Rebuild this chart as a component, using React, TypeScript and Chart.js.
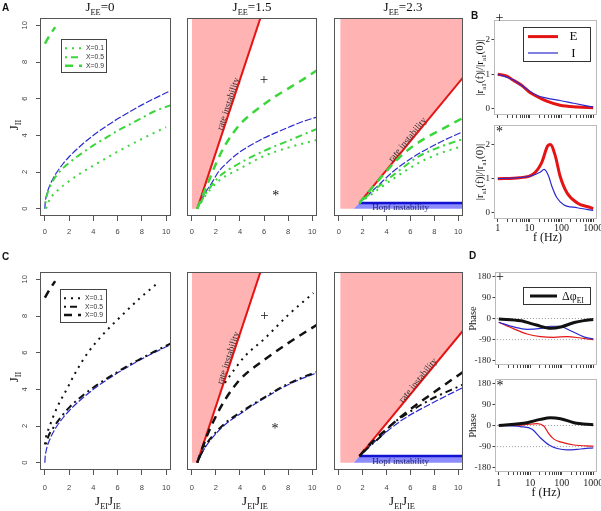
import React, { useEffect, useRef } from "react";
import { Chart, registerables } from "chart.js";

Chart.register(...registerables);

const W = 601;
const H = 511;
const SERIF = '"Liberation Serif", "DejaVu Serif", serif';
const SANS = '"Liberation Sans", "DejaVu Sans", sans-serif';

// ---------------- phase diagrams: J_II versus J_EI*J_IE ----------------
const J_TICKS = [0, 2, 4, 6, 8, 10];
const J_MIN = -0.4;
const J_MAX = 10.4;
const LEGEND_LABELS = ["X=0.1", "X=0.5", "X=0.9"];

// J_EE = 0 (panels A1, C1)
const A1_BLUE_X = [0, 0.03, 0.1, 0.25, 0.5, 0.75, 1, 1.5, 2, 3, 4, 5, 6, 7, 8, 9, 10, 10.4];
const A1_BLUE_Y = [0, 0.35, 0.63, 1.0, 1.41, 1.73, 2.0, 2.45, 2.83, 3.46, 4.0, 4.47, 4.9, 5.29, 5.66, 6.0, 6.32, 6.45];
const A1_X01_X = [0.1, 0.4, 1, 2, 3.1, 4.4, 5.7, 7.1, 8.5, 10];
const A1_X01_Y = [0, 0.5, 0.96, 1.5, 2.0, 2.5, 3.0, 3.5, 3.97, 4.45];
const A1_X05_X = [0.05, 0.2, 0.5, 1, 2, 3, 4, 5, 6, 7, 8, 9, 10.4];
const A1_X05_Y = [0.3, 0.8, 1.3, 1.85, 2.5, 3.0, 3.45, 3.85, 4.25, 4.6, 4.95, 5.3, 5.65];
const A1_X09_X = [0, 0.4, 0.85];
const A1_X09_Y = [9.0, 9.45, 9.9];
const C1_X01_X = [0, 0.1, 0.4, 1, 1.8, 2.6, 3.55, 4.8, 6.3, 7.8, 9.3];
const C1_X01_Y = [1.0, 1.4, 2.0, 3.0, 4.0, 5.0, 6.0, 7.0, 8.0, 8.95, 9.8];
const C1_X05_X = [0.1, 0.3, 0.6, 1, 2, 3, 4, 5, 6, 7, 8, 9, 10.4];
const C1_X05_Y = [1.0, 1.45, 1.8, 2.2, 3.0, 3.6, 4.1, 4.55, 4.95, 5.35, 5.7, 6.05, 6.5];

// J_EE = 1.5 (panels A2, C2)
const A2_RED_X = [0.45, 5.8];
const A2_RED_Y = [0, 10.6];
const A2_PINK_X = [0, 0.45, 5.8];
const A2_PINK_Y = [0, 0, 10.6];
const A2_BLUE_X = [0.45, 0.8, 1.2, 1.7, 2.2, 3, 3.9, 5, 6, 7, 8, 9, 10.4];
const A2_BLUE_Y = [0, 0.5, 0.95, 1.45, 2.0, 2.55, 3.05, 3.5, 3.85, 4.15, 4.43, 4.7, 5.0];
const A2_X01_X = [0.45, 1.1, 2.2, 3.9, 6, 8, 10.4];
const A2_X01_Y = [0, 0.68, 1.5, 2.15, 2.87, 3.33, 3.75];
const A2_X05_X = [0.45, 1.1, 2.2, 3.9, 6, 8, 10.4];
const A2_X05_Y = [0, 0.75, 1.7, 2.45, 3.15, 3.7, 4.35];
const A2_X09_X = [0.45, 0.83, 1.4, 2.1, 2.8, 4, 5, 6, 7, 8, 9, 10.4];
const A2_X09_Y = [0, 0.6, 1.5, 2.6, 3.5, 4.6, 5.2, 5.7, 6.15, 6.55, 6.95, 7.55];
const C2_BLUE_X = [0.45, 1.1, 2.2, 3, 4, 5, 6, 7, 8, 9, 10.4];
const C2_BLUE_Y = [0, 0.82, 1.72, 2.2, 2.65, 3.1, 3.5, 3.9, 4.25, 4.55, 4.9];
const C2_X01_X = [2.75, 3.5, 4.4, 6.1, 8, 10.1];
const C2_X01_Y = [4.35, 5.05, 5.8, 6.8, 8.05, 9.25];
const C2_X05_X = [0.45, 1.1, 2.2, 3, 4, 5, 6, 7, 8, 9, 10.4];
const C2_X05_Y = [0, 0.9, 1.8, 2.28, 2.72, 3.15, 3.55, 3.95, 4.3, 4.6, 4.95];
const C2_X09_X = [0.45, 1.25, 1.94, 2.77, 4, 6, 8, 10.4];
const C2_X09_Y = [0, 1.45, 2.45, 3.44, 4.53, 5.6, 6.52, 7.52];

// J_EE = 2.3 (panels A3, C3)
const A3_RED_X = [1.73, 10.6];
const A3_RED_Y = [0.31, 7.31];
const A3_PINK_X = [0.12, 1.25, 1.73, 10.6];
const A3_PINK_Y = [0, 0, 0.31, 7.31];
const A3_HOPF_X = [1.25, 1.73, 10.6];
const A3_HOPF_Y = [0, 0.31, 0.31];
const A3_BLUE_X = [1.73, 2.3, 3.2, 4.5, 6.2, 8.4, 10.4];
const A3_BLUE_Y = [0.31, 0.65, 1.2, 2.0, 2.8, 3.6, 4.2];
const A3_X01_X = [1.73, 2.4, 3.3, 4.5, 6.7, 8.4, 10.4];
const A3_X01_Y = [0.31, 0.62, 1.05, 1.6, 2.5, 3.0, 3.42];
const A3_X05_X = [1.73, 2.4, 3.3, 4.5, 6.7, 8.4, 10.4];
const A3_X05_Y = [0.31, 0.7, 1.2, 1.8, 2.85, 3.35, 3.8];
const A3_X09_X = [1.73, 2.3, 3.2, 4.2, 5, 5.9, 7, 8.4, 10.4];
const A3_X09_Y = [0.31, 0.76, 1.45, 2.2, 2.75, 3.25, 3.75, 4.25, 4.95];
const C3_RED_X = [1.73, 10.6];
const C3_RED_Y = [0.36, 7.36];
const C3_PINK_X = [0.12, 1.25, 1.73, 10.6];
const C3_PINK_Y = [0, 0, 0.36, 7.36];
const C3_HOPF_X = [1.25, 1.73, 10.6];
const C3_HOPF_Y = [0, 0.36, 0.36];
const C3_BLUE_X = [1.73, 2.34, 3.46, 5.35, 7.82, 10.4];
const C3_BLUE_Y = [0.36, 0.75, 1.4, 2.35, 3.25, 4.1];
const C3_X05_X = [1.73, 2.6, 3.7, 4.3, 5.9, 7.55, 10.4];
const C3_X05_Y = [0.36, 0.9, 1.55, 2.0, 2.75, 3.4, 4.26];
const C3_X09_X = [1.73, 2.6, 3.7, 5.1, 6.7, 8.65, 10.4];
const C3_X09_Y = [0.36, 1.0, 1.65, 2.45, 3.25, 4.15, 4.95];

// ---------------- frequency responses ----------------
const F_TICKS = [1, 2, 3, 4, 5, 6, 7, 8, 9, 10, 20, 30, 40, 50, 60, 70, 80, 90, 100, 200, 300, 400, 500, 600, 700, 800, 900, 1000];
const F_LABELS = [1, 10, 100, 1000];
const AMP_TICKS = [0, 1, 2];
const PHASE_TICKS = [-180, -90, 0, 90, 180];
const PHASE_REF_F = [0.7, 1400];
const PHASE_REF = [0, -90];

// B, point "+"
const F_E_TOP = [1, 2, 3, 5.6, 10, 18.6, 34.7, 91, 316, 1000];
const R_E_TOP = [1.0, 0.94, 0.83, 0.68, 0.48, 0.34, 0.22, 0.1, 0.05, 0.03];
const F_I_TOP = [1, 3, 7.9, 16.6, 34.7, 91, 245, 1000];
const R_I_TOP = [1.0, 0.84, 0.58, 0.39, 0.31, 0.24, 0.16, 0.05];
// B, point "*"
const F_E_BOT = [1, 4.9, 12.9, 24, 37, 44.7, 64.6, 91.2, 151, 316, 832, 1000];
const R_E_BOT = [1.0, 1.03, 1.13, 1.47, 1.96, 2.0, 1.66, 1.07, 0.58, 0.29, 0.15, 0.12];
const F_I_BOT = [1, 10, 21.4, 28.8, 39.8, 50.1, 72.4, 117.5, 316, 1000];
const R_I_BOT = [1.0, 1.07, 1.19, 1.27, 1.07, 0.78, 0.44, 0.24, 0.15, 0.07];
// D, point "+"
const F_DPHI_TOP = [1, 5, 15.8, 44.7, 100, 251, 501, 1000];
const DPHI_TOP = [-2, -10, -28, -42, -35, -17, -9, -4];
const F_PI_TOP = [1, 3, 7.9, 21.4, 44.7, 81, 190, 501, 1000];
const PI_TOP = [-16, -36, -46, -42, -33, -33, -52, -78, -87];
const F_PE_TOP = [1, 3, 7.9, 21.4, 56, 151, 398, 1000];
const PE_TOP = [-16, -44, -66, -77, -80, -77, -83, -90];
// D, point "*"
const F_DPHI_BOT = [1, 7.9, 20.9, 43.7, 91.2, 245, 1000];
const DPHI_BOT = [0, 12, 26, 33, 29, 12, 3];
const F_PE_BOT = [1, 6.3, 16.6, 26.9, 39.8, 56.2, 91.2, 245, 1000];
const PE_BOT = [0, 3, 8, -2, -37, -58, -70, -83, -88];
const F_PI_BOT = [1, 4.9, 11.5, 20.9, 39.8, 72.4, 151, 398, 1000];
const PI_BOT = [0, -5, -16, -52, -83, -98, -104, -100, -95];

// ---------------- styles ----------------
const GREEN = "#3bd63b";
const BLUE = "#2a2ad0";
const RED = "#e41414";
const PINK = "#ffb3b3";
const HOPF_FILL = "#8c8cff";
const HOPF_LINE = "#1212d2";
const DOT = [2, 5];
const DOTDASH = [2, 4, 7, 4];
const LONGDASH = [8, 6];
const BLUEDASH = [7, 2];

type Part = { t: string; sub?: boolean };

const pts = (xs: number[], ys: number[]) => xs.map((x, i) => ({ x, y: ys[i] }));

function curve(xs: number[], ys: number[], color: string, width: number, dash: number[] = [], smooth = true) {
  return {
    data: pts(xs, ys),
    borderColor: color,
    borderWidth: width,
    borderDash: dash,
    borderCapStyle: "butt",
    pointRadius: 0,
    fill: false,
    cubicInterpolationMode: smooth ? "monotone" : "default",
    tension: 0,
  };
}

function area(xs: number[], ys: number[], color: string, fill: string) {
  return {
    data: pts(xs, ys),
    borderColor: "rgba(0,0,0,0)",
    borderWidth: 0,
    backgroundColor: color,
    pointRadius: 0,
    fill,
    tension: 0,
  };
}

function richWidth(ctx: CanvasRenderingContext2D, parts: Part[], size: number, fam: string) {
  let w = 0;
  for (const p of parts) {
    ctx.font = `${p.sub ? size * 0.64 : size}px ${fam}`;
    w += ctx.measureText(p.t).width;
  }
  return w;
}

function rich(ctx: CanvasRenderingContext2D, parts: Part[], x: number, y: number, size: number, fam = SERIF, color = "#111", align = "center") {
  const w = richWidth(ctx, parts, size, fam);
  let cx = align === "center" ? x - w / 2 : x;
  ctx.fillStyle = color;
  ctx.textAlign = "left";
  ctx.textBaseline = "alphabetic";
  for (const p of parts) {
    ctx.font = `${p.sub ? size * 0.64 : size}px ${fam}`;
    ctx.fillText(p.t, cx, p.sub ? y + size * 0.28 : y);
    cx += ctx.measureText(p.t).width;
  }
}

function richV(ctx: CanvasRenderingContext2D, parts: Part[], cx: number, cy: number, size: number, fam = SERIF, color = "#111") {
  ctx.save();
  ctx.translate(cx, cy);
  ctx.rotate(-Math.PI / 2);
  rich(ctx, parts, 0, size * 0.35, size, fam, color, "center");
  ctx.restore();
}

function plain(ctx: CanvasRenderingContext2D, t: string, x: number, y: number, font: string, color = "#111", align: CanvasTextAlign = "center", base: CanvasTextBaseline = "middle") {
  ctx.font = font;
  ctx.fillStyle = color;
  ctx.textAlign = align;
  ctx.textBaseline = base;
  ctx.fillText(t, x, y);
}

function px(chart: any, x: number, y: number) {
  return [chart.scales.x.getPixelForValue(x), chart.scales.y.getPixelForValue(y)];
}

function alongLine(ctx: CanvasRenderingContext2D, chart: any, text: string, cx: number, cy: number, lx: number[], ly: number[]) {
  const [x0, y0] = px(chart, lx[0], ly[0]);
  const [x1, y1] = px(chart, lx[1], ly[1]);
  const ang = Math.atan2(y1 - y0, x1 - x0);
  const [x, y] = px(chart, cx, cy);
  ctx.save();
  ctx.translate(x, y);
  ctx.rotate(ang);
  plain(ctx, text, 0, 0, `9.5px ${SERIF}`, "#333");
  ctx.restore();
}

function marker(ctx: CanvasRenderingContext2D, t: string, x: number, y: number, size = 14) {
  plain(ctx, t, x, t === "*" ? y + size * 0.17 : y, `${size}px ${SERIF}`, "#111");
}

function vText(ctx: CanvasRenderingContext2D, t: string, cx: number, cy: number, font: string) {
  ctx.save();
  ctx.translate(cx, cy);
  ctx.rotate(-Math.PI / 2);
  plain(ctx, t, 0, 0, font, "#111");
  ctx.restore();
}

const JEE = (v: string): Part[] => [{ t: "J" }, { t: "EE", sub: true }, { t: "=" + v }];
const JII: Part[] = [{ t: "J" }, { t: "II", sub: true }];
const JEIJIE: Part[] = [{ t: "J" }, { t: "EI", sub: true }, { t: "J" }, { t: "IE", sub: true }];
const RATIO: Part[] = [{ t: "|r" }, { t: "a1", sub: true }, { t: "(f)|/|r" }, { t: "a1", sub: true }, { t: "(0)|" }];

function xLegend(ctx: CanvasRenderingContext2D, x0: number, y0: number, x1: number, y1: number, rows: number[], color: string) {
  ctx.fillStyle = "#fff";
  ctx.fillRect(x0, y0, x1 - x0, y1 - y0);
  ctx.setLineDash([]);
  ctx.strokeStyle = "#444";
  ctx.lineWidth = 1;
  ctx.strokeRect(x0 + 0.5, y0 + 0.5, x1 - x0 - 1, y1 - y0 - 1);
  const styles: [number[], number][] = [[DOT, 2], [DOTDASH, 2], [LONGDASH, 2.5]];
  LEGEND_LABELS.forEach((lab, i) => {
    ctx.beginPath();
    ctx.setLineDash(styles[i][0]);
    ctx.lineWidth = styles[i][1];
    ctx.strokeStyle = color;
    ctx.moveTo(x0 + 4, rows[i]);
    ctx.lineTo(x0 + 21, rows[i]);
    ctx.stroke();
    ctx.setLineDash([]);
    plain(ctx, lab, x0 + 25, rows[i], `6.8px ${SANS}`, "#333", "left");
  });
}

function decor(boxColor: string, draw: (ctx: CanvasRenderingContext2D, chart: any) => void) {
  return {
    id: "decor",
    afterDraw(chart: any) {
      const ctx = chart.ctx as CanvasRenderingContext2D;
      const a = chart.chartArea;
      ctx.save();
      ctx.setLineDash([]);
      ctx.strokeStyle = boxColor;
      ctx.lineWidth = 1;
      ctx.strokeRect(a.left + 0.5, a.top + 0.5, a.right - a.left - 1, a.bottom - a.top - 1);
      draw(ctx, chart);
      ctx.restore();
    },
  };
}

const BASE_OPTS = {
  responsive: false,
  animation: false,
  devicePixelRatio: 1,
  events: [],
};

function jConfig(o: { box: number[]; showY: boolean; labelPad: number; datasets: () => any[]; draw: (ctx: CanvasRenderingContext2D, chart: any) => void }) {
  const yW = o.showY ? 30 : 0;
  const xH = 30;
  return () => ({
    type: "line",
    data: { datasets: o.datasets() },
    options: {
      ...BASE_OPTS,
      layout: { padding: { left: o.box[0] - yW, top: o.box[1], right: W - o.box[2], bottom: H - o.box[3] - xH } },
      scales: {
        x: {
          type: "linear",
          min: J_MIN,
          max: J_MAX,
          afterBuildTicks: (s: any) => {
            s.ticks = J_TICKS.map((v) => ({ value: v }));
          },
          ticks: { autoSkip: false, maxRotation: 0, padding: o.labelPad, color: "#444", font: { family: SANS, size: 7.5 } },
          grid: { drawOnChartArea: false, drawTicks: true, tickLength: 5, color: "#555", lineWidth: 1 },
          border: { display: false },
          afterFit: (s: any) => {
            s.height = xH;
            s.paddingLeft = 0;
            s.paddingRight = 0;
          },
        },
        y: o.showY
          ? {
              type: "linear",
              min: J_MIN,
              max: J_MAX,
              afterBuildTicks: (s: any) => {
                s.ticks = J_TICKS.map((v) => ({ value: v }));
              },
              ticks: { autoSkip: false, minRotation: 90, maxRotation: 90, crossAlign: "center", padding: 7, color: "#444", font: { family: SANS, size: 7.5 } },
              grid: { drawOnChartArea: false, drawTicks: true, tickLength: 4, color: "#555", lineWidth: 1 },
              border: { display: false },
              afterFit: (s: any) => {
                s.width = yW;
                s.paddingTop = 0;
                s.paddingBottom = 0;
              },
            }
          : { type: "linear", display: false, min: J_MIN, max: J_MAX },
      },
      plugins: { legend: { display: false }, tooltip: { enabled: false } },
    },
    plugins: [decor("#555", o.draw)],
  });
}

function fConfig(o: { box: number[]; phase: boolean; showX: boolean; labelPad: number; datasets: () => any[]; draw: (ctx: CanvasRenderingContext2D, chart: any) => void }) {
  const yW = 24;
  const xH = 20;
  const yTicks = o.phase ? PHASE_TICKS : AMP_TICKS;
  return () => ({
    type: "line",
    data: { datasets: o.datasets() },
    options: {
      ...BASE_OPTS,
      layout: { padding: { left: o.box[0] - yW, top: o.box[1], right: W - o.box[2], bottom: H - o.box[3] - xH } },
      scales: {
        x: {
          type: "logarithmic",
          min: 0.76,
          max: 1318,
          afterBuildTicks: (s: any) => {
            s.ticks = F_TICKS.map((v) => ({ value: v }));
          },
          ticks: {
            autoSkip: false,
            maxRotation: 0,
            padding: o.labelPad,
            color: "#222",
            font: { family: SERIF, size: 10 },
            callback: (v: any) => (o.showX && F_LABELS.includes(Number(v)) ? String(v) : ""),
          },
          grid: { drawOnChartArea: false, drawTicks: true, tickLength: 3, color: "#444", lineWidth: 1 },
          border: { display: false },
          afterFit: (s: any) => {
            s.height = xH;
            s.paddingLeft = 0;
            s.paddingRight = 0;
          },
        },
        y: {
          type: "linear",
          min: o.phase ? -198 : -0.18,
          max: o.phase ? 198 : 2.57,
          afterBuildTicks: (s: any) => {
            s.ticks = yTicks.map((v) => ({ value: v }));
          },
          ticks: { autoSkip: false, padding: 1.5, color: "#222", font: { family: SERIF, size: 9 } },
          grid: { drawOnChartArea: false, drawTicks: true, tickLength: 2.5, color: "#444", lineWidth: 1 },
          border: { display: false },
          afterFit: (s: any) => {
            s.width = yW;
            s.paddingTop = 0;
            s.paddingBottom = 0;
          },
        },
      },
      plugins: { legend: { display: false }, tooltip: { enabled: false } },
    },
    plugins: [decor("#bbbbbb", o.draw)],
  });
}

// ---------------- panels ----------------
const BOX_A1 = [40, 18, 171, 216];
const BOX_A2 = [187, 18, 317, 216];
const BOX_A3 = [334, 18, 463, 216];
const BOX_C1 = [40, 272, 171, 470];
const BOX_C2 = [187, 272, 317, 470];
const BOX_C3 = [334, 272, 463, 470];
const BOX_B1 = [494, 20, 597, 115];
const BOX_B2 = [494, 125, 597, 219];
const BOX_D1 = [495, 272, 597, 365];
const BOX_D2 = [495, 379, 597, 472];

const cfgA1 = jConfig({
  box: BOX_A1,
  showY: true,
  labelPad: 6.5,
  datasets: () => [
    curve(A1_X09_X, A1_X09_Y, GREEN, 2.5, LONGDASH),
    curve(A1_X05_X, A1_X05_Y, GREEN, 2, DOTDASH),
    curve(A1_X01_X, A1_X01_Y, GREEN, 2, DOT),
    curve(A1_BLUE_X, A1_BLUE_Y, BLUE, 1.2, BLUEDASH),
  ],
  draw: (ctx) => {
    plain(ctx, "A", 2, 11, `bold 10px ${SANS}`, "#111", "left", "alphabetic");
    rich(ctx, JEE("0"), 100, 11, 13);
    richV(ctx, JII, 13, 125, 13);
    xLegend(ctx, 61, 39, 107, 73, [48.3, 57.3, 65.7], GREEN);
  },
});

const cfgA2 = jConfig({
  box: BOX_A2,
  showY: false,
  labelPad: 6.5,
  datasets: () => [
    curve(A2_X09_X, A2_X09_Y, GREEN, 2.5, LONGDASH),
    curve(A2_X05_X, A2_X05_Y, GREEN, 2, DOTDASH),
    curve(A2_X01_X, A2_X01_Y, GREEN, 2, DOT),
    curve(A2_BLUE_X, A2_BLUE_Y, BLUE, 1.2, BLUEDASH),
    curve(A2_RED_X, A2_RED_Y, RED, 2, [], false),
    area(A2_PINK_X, A2_PINK_Y, PINK, "end"),
  ],
  draw: (ctx, chart) => {
    rich(ctx, JEE("1.5"), 252, 11, 13);
    alongLine(ctx, chart, "rate instability", 3.04, 5.71, A2_RED_X, A2_RED_Y);
    const [px1, py1] = px(chart, 6.0, 7.0);
    marker(ctx, "+", px1, py1, 15);
    const [px2, py2] = px(chart, 6.98, 0.82);
    marker(ctx, "*", px2, py2, 14);
  },
});

const cfgA3 = jConfig({
  box: BOX_A3,
  showY: false,
  labelPad: 6.5,
  datasets: () => [
    curve(A3_X09_X, A3_X09_Y, GREEN, 2.5, LONGDASH),
    curve(A3_X05_X, A3_X05_Y, GREEN, 2, DOTDASH),
    curve(A3_X01_X, A3_X01_Y, GREEN, 2, DOT),
    curve(A3_BLUE_X, A3_BLUE_Y, BLUE, 1.2, BLUEDASH),
    curve(A3_RED_X, A3_RED_Y, RED, 2, [], false),
    curve(A3_HOPF_X.slice(1), A3_HOPF_Y.slice(1), HOPF_LINE, 2.5, [], false),
    area(A3_HOPF_X, A3_HOPF_Y, HOPF_FILL, "origin"),
    area(A3_PINK_X, A3_PINK_Y, PINK, "end"),
  ],
  draw: (ctx, chart) => {
    rich(ctx, JEE("2.3"), 403, 11, 13);
    alongLine(ctx, chart, "rate instability", 5.77, 3.75, A3_RED_X, A3_RED_Y);
    const [hx, hy] = px(chart, 5.17, 0);
    plain(ctx, "Hopf instability", hx, hy - 1, `9px ${SERIF}`, "#1c1c6b");
  },
});

const cfgC1 = jConfig({
  box: BOX_C1,
  showY: true,
  labelPad: 8.5,
  datasets: () => [
    curve(A1_X09_X, A1_X09_Y, "#111", 2.5, LONGDASH),
    curve(C1_X05_X, C1_X05_Y, "#111", 2, DOTDASH),
    curve(C1_X01_X, C1_X01_Y, "#111", 2, DOT),
    curve(A1_BLUE_X, A1_BLUE_Y, BLUE, 1.2, BLUEDASH),
  ],
  draw: (ctx) => {
    plain(ctx, "C", 2, 259.5, `bold 10px ${SANS}`, "#111", "left", "alphabetic");
    richV(ctx, JII, 13, 377, 13);
    rich(ctx, JEIJIE, 108, 505, 13);
    xLegend(ctx, 60, 289, 107, 323, [298.3, 306.7, 315], "#111");
  },
});

const cfgC2 = jConfig({
  box: BOX_C2,
  showY: false,
  labelPad: 8.5,
  datasets: () => [
    curve(C2_X09_X, C2_X09_Y, "#111", 2.5, LONGDASH),
    curve(C2_X05_X, C2_X05_Y, "#111", 2, DOTDASH),
    curve(C2_X01_X, C2_X01_Y, "#111", 2, DOT),
    curve(C2_BLUE_X, C2_BLUE_Y, BLUE, 1.2, BLUEDASH),
    curve(A2_RED_X, A2_RED_Y, RED, 2, [], false),
    area(A2_PINK_X, A2_PINK_Y, PINK, "end"),
  ],
  draw: (ctx, chart) => {
    rich(ctx, JEIJIE, 255, 505, 13);
    alongLine(ctx, chart, "rate instability", 3.04, 5.71, A2_RED_X, A2_RED_Y);
    const [px1, py1] = px(chart, 6.04, 7.97);
    marker(ctx, "+", px1, py1, 15);
    const [px2, py2] = px(chart, 6.92, 1.94);
    marker(ctx, "*", px2, py2, 14);
  },
});

const cfgC3 = jConfig({
  box: BOX_C3,
  showY: false,
  labelPad: 8.5,
  datasets: () => [
    curve(C3_X09_X, C3_X09_Y, "#111", 2.5, LONGDASH),
    curve(C3_X05_X, C3_X05_Y, "#111", 2, DOTDASH),
    curve(C3_BLUE_X, C3_BLUE_Y, BLUE, 1.2, BLUEDASH),
    curve(C3_RED_X, C3_RED_Y, RED, 2, [], false),
    curve(C3_HOPF_X.slice(1), C3_HOPF_Y.slice(1), HOPF_LINE, 2.5, [], false),
    area(C3_HOPF_X, C3_HOPF_Y, HOPF_FILL, "origin"),
    area(C3_PINK_X, C3_PINK_Y, PINK, "end"),
  ],
  draw: (ctx, chart) => {
    rich(ctx, JEIJIE, 402, 505, 13);
    alongLine(ctx, chart, "rate instability", 6.66, 4.48, C3_RED_X, C3_RED_Y);
    const [hx, hy] = px(chart, 5.17, 0);
    plain(ctx, "Hopf instability", hx, hy - 1, `9px ${SERIF}`, "#1c1c6b");
  },
});

const cfgB1 = fConfig({
  box: BOX_B1,
  phase: false,
  showX: false,
  labelPad: 0,
  datasets: () => [curve(F_I_TOP, R_I_TOP, BLUE, 1.2), curve(F_E_TOP, R_E_TOP, RED, 3)],
  draw: (ctx) => {
    plain(ctx, "B", 471, 18.5, `bold 10px ${SANS}`, "#111", "left", "alphabetic");
    marker(ctx, "+", 499.5, 18, 14);
    richV(ctx, RATIO, 479, 67.5, 11);
    ctx.fillStyle = "#fff";
    ctx.fillRect(523, 27, 68, 35);
    ctx.strokeStyle = "#333";
    ctx.lineWidth = 1;
    ctx.strokeRect(523.5, 27.5, 67, 34);
    ctx.beginPath();
    ctx.strokeStyle = RED;
    ctx.lineWidth = 3;
    ctx.moveTo(528, 36.6);
    ctx.lineTo(558, 36.6);
    ctx.stroke();
    ctx.beginPath();
    ctx.strokeStyle = BLUE;
    ctx.lineWidth = 1.2;
    ctx.moveTo(528, 53);
    ctx.lineTo(558, 53);
    ctx.stroke();
    plain(ctx, "E", 573.5, 37, `13px ${SERIF}`, "#111");
    plain(ctx, "I", 573.5, 53.5, `13px ${SERIF}`, "#111");
  },
});

const cfgB2 = fConfig({
  box: BOX_B2,
  phase: false,
  showX: true,
  labelPad: 0,
  datasets: () => [curve(F_I_BOT, R_I_BOT, BLUE, 1.2), curve(F_E_BOT, R_E_BOT, RED, 3)],
  draw: (ctx) => {
    marker(ctx, "*", 499.5, 130, 14);
    richV(ctx, RATIO, 479, 172, 11);
    plain(ctx, "f (Hz)", 547.5, 241, `12px ${SERIF}`, "#111", "center", "alphabetic");
  },
});

const cfgD1 = fConfig({
  box: BOX_D1,
  phase: true,
  showX: false,
  labelPad: 0,
  datasets: () => [
    curve(F_DPHI_TOP, DPHI_TOP, "#111", 3),
    curve(F_PI_TOP, PI_TOP, BLUE, 1.2),
    curve(F_PE_TOP, PE_TOP, RED, 1.2),
    curve(PHASE_REF_F, [PHASE_REF[0], PHASE_REF[0]], "#999", 1, [1, 2], false),
    curve(PHASE_REF_F, [PHASE_REF[1], PHASE_REF[1]], "#999", 1, [1, 2], false),
  ],
  draw: (ctx) => {
    plain(ctx, "D", 469, 258.5, `bold 10px ${SANS}`, "#111", "left", "alphabetic");
    marker(ctx, "+", 500, 277, 14);
    vText(ctx, "Phase", 473, 318.5, `10.5px ${SERIF}`);
    ctx.fillStyle = "#fff";
    ctx.fillRect(523, 287, 68, 18);
    ctx.strokeStyle = "#333";
    ctx.lineWidth = 1;
    ctx.strokeRect(523.5, 287.5, 67, 17);
    ctx.beginPath();
    ctx.strokeStyle = "#111";
    ctx.lineWidth = 3;
    ctx.moveTo(530, 296);
    ctx.lineTo(557, 296);
    ctx.stroke();
    rich(ctx, [{ t: "\u0394\u03c6" }, { t: "EI", sub: true }], 562, 300, 12, SERIF, "#111", "left");
  },
});

const cfgD2 = fConfig({
  box: BOX_D2,
  phase: true,
  showX: true,
  labelPad: 2.5,
  datasets: () => [
    curve(F_DPHI_BOT, DPHI_BOT, "#111", 3),
    curve(F_PI_BOT, PI_BOT, BLUE, 1.2),
    curve(F_PE_BOT, PE_BOT, RED, 1.2),
    curve(PHASE_REF_F, [PHASE_REF[0], PHASE_REF[0]], "#999", 1, [1, 2], false),
    curve(PHASE_REF_F, [PHASE_REF[1], PHASE_REF[1]], "#999", 1, [1, 2], false),
  ],
  draw: (ctx) => {
    marker(ctx, "*", 500, 384, 14);
    vText(ctx, "Phase", 473, 425.5, `10.5px ${SERIF}`);
    plain(ctx, "f (Hz)", 546, 496, `12px ${SERIF}`, "#111", "center", "alphabetic");
  },
});

function ChartCanvas({ config }: { config: () => any }) {
  const ref = useRef<HTMLCanvasElement | null>(null);
  useEffect(() => {
    if (!ref.current) return;
    const chart = new Chart(ref.current, config());
    return () => chart.destroy();
  }, [config]);
  return <canvas ref={ref} width={W} height={H} style={{ position: "absolute", left: 0, top: 0, width: W, height: H }} />;
}

const CONFIGS = [cfgA1, cfgA2, cfgA3, cfgC1, cfgC2, cfgC3, cfgB1, cfgB2, cfgD1, cfgD2];

export default function App() {
  return (
    <div style={{ position: "absolute", left: 0, top: 0, width: W, height: H, background: "#fff", overflow: "hidden" }}>
      {CONFIGS.map((c, i) => (
        <ChartCanvas key={i} config={c} />
      ))}
    </div>
  );
}
